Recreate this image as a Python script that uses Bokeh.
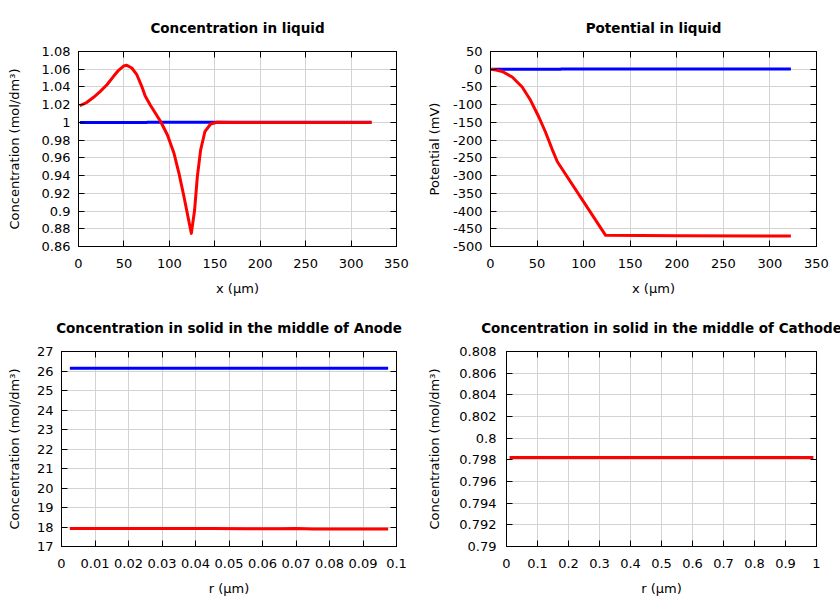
from bokeh.plotting import figure
from bokeh.layouts import column, row
from bokeh.models import FixedTicker, LinearAxis, CustomJSTickFormatter, Range1d
from bokeh.embed import file_html
from bokeh.resources import INLINE

# ---------------- data ----------------
liq_x_blue = [1.5, 75.0, 75.5, 322.5]
liq_c_blue = [0.9999, 0.9999, 1.0001, 1.0001]
liq_x_red = [1.3, 9.3, 16.6, 24.0, 31.3, 38.6, 44.1, 49.6, 53.2, 58.7, 64.2, 69.6,
             73.3, 78.8, 84.0, 90.5, 97.9, 105.1, 110.6, 116.1, 120.5, 124.2,
             127.8, 130.8, 134.4, 139.1, 145.4, 152.7, 170.0, 322.5]
liq_c_red = [1.0188, 1.0227, 1.0283, 1.035, 1.0425, 1.052, 1.0588, 1.0636, 1.0644,
             1.0614, 1.0538, 1.0407, 1.03, 1.02, 1.0115, 1.0008, 0.9858, 0.9651,
             0.9425, 0.9161, 0.8935, 0.8748, 0.9011, 0.9387, 0.9688, 0.9895, 0.9982,
             1.0001, 1.0, 1.0]

pot_x_blue = [1.5, 75.0, 75.5, 322.5]
pot_v_blue = [-0.3, -0.3, 0.3, 0.3]
pot_x_red = [0.5, 6.0, 12.6, 23.3, 34.0, 43.0, 51.9, 59.0, 66.2, 71.8, 123.6, 200.0,
             322.5]
pot_v_red = [0.0, -2.0, -6.5, -22.0, -50.0, -87.7, -134.7, -177.0, -225.9, -261.0,
             -468.5, -469.5, -470.5]

anode_r = [0.0025, 0.045, 0.055, 0.06, 0.065, 0.07, 0.075, 0.0975]
anode_blue = [26.14, 26.14, 26.14, 26.14, 26.14, 26.14, 26.14, 26.14]
anode_red = [17.92, 17.92, 17.91, 17.905, 17.915, 17.92, 17.9, 17.895]

cathode_r = [0.01, 0.99]
cathode_red = [0.79822, 0.79822]

liq_xticks = [0, 50, 100, 150, 200, 250, 300, 350]
liq_cticks = [0.86, 0.88, 0.9, 0.92, 0.94, 0.96, 0.98, 1.0, 1.02, 1.04, 1.06, 1.08]
pot_vticks = [-500, -450, -400, -350, -300, -250, -200, -150, -100, -50, 0, 50]
anode_rticks = [0, 0.01, 0.02, 0.03, 0.04, 0.05, 0.06, 0.07, 0.08, 0.09, 0.1]
anode_cticks = [17, 18, 19, 20, 21, 22, 23, 24, 25, 26, 27]
cath_rticks = [0, 0.1, 0.2, 0.3, 0.4, 0.5, 0.6, 0.7, 0.8, 0.9, 1]
cath_cticks = [0.79, 0.792, 0.794, 0.796, 0.798, 0.8, 0.802, 0.804, 0.806, 0.808]

FONT = "DejaVu Sans"
BLUE = "#0000ff"
RED = "#ff0000"

fmt_code = "return Number(tick.toPrecision(10)).toString();"


def make_fig(title, xr, yr, xticks, yticks, xlabel, ylabel,
             bl, ylab_standoff, ylab_major_standoff=8):
    p = figure(width=420, height=300, x_range=Range1d(*xr), y_range=Range1d(*yr),
               output_backend="svg", toolbar_location=None,
               min_border_left=bl, min_border_right=24,
               min_border_top=51, min_border_bottom=54)
    p.title.text = title
    p.title.align = "center"
    p.title.text_font = FONT
    p.title.text_font_size = "13.5px"
    p.title.text_font_style = "bold"
    p.title.text_color = "black"
    p.title.standoff = 32
    p.outline_line_color = "black"
    p.outline_line_width = 1
    p.background_fill_color = "white"
    p.border_fill_color = "white"

    for ax, ticks in ((p.xaxis[0], xticks), (p.yaxis[0], yticks)):
        ax.ticker = FixedTicker(ticks=ticks)
        ax.formatter = CustomJSTickFormatter(code=fmt_code)
        ax.major_tick_in = 6
        ax.major_tick_out = 0
        ax.minor_tick_line_color = None
        ax.axis_line_color = "black"
        ax.major_tick_line_color = "black"
        ax.major_label_text_font = FONT
        ax.major_label_text_font_size = "13px"
        ax.major_label_text_color = "black"
        ax.axis_label_text_font = FONT
        ax.axis_label_text_font_size = "13px"
        ax.axis_label_text_font_style = "normal"
        ax.axis_label_text_color = "black"
    p.xaxis[0].axis_label = xlabel
    p.yaxis[0].axis_label = ylabel
    p.xaxis[0].major_label_standoff = 12
    p.xaxis[0].axis_label_standoff = 10
    p.yaxis[0].major_label_standoff = ylab_major_standoff
    p.yaxis[0].axis_label_standoff = ylab_standoff

    for ticks, side in ((xticks, "above"), (yticks, "right")):
        ax = LinearAxis(ticker=FixedTicker(ticks=ticks))
        ax.major_tick_in = 6
        ax.major_tick_out = 0
        ax.minor_tick_line_color = None
        ax.axis_line_color = "black"
        ax.major_tick_line_color = "black"
        ax.major_label_text_font_size = "0px"
        ax.major_label_standoff = 0
        p.add_layout(ax, side)

    p.xgrid[0].ticker = FixedTicker(ticks=xticks)
    p.ygrid[0].ticker = FixedTicker(ticks=yticks)
    p.grid.grid_line_color = "#d3d3d3"
    p.grid.grid_line_width = 1
    return p


YL = "Concentration (mol/dm\u00b3)"

p1 = make_fig("Concentration in liquid", (0, 350), (0.86, 1.08), liq_xticks, liq_cticks,
              "x (\u00b5m)", YL, 78, 17)
p1.line(liq_x_blue, liq_c_blue, line_color=BLUE, line_width=3)
p1.line(liq_x_red, liq_c_red, line_color=RED, line_width=3, line_join="round")

p2 = make_fig("Potential in liquid", (0, 350), (-500, 50), liq_xticks, pot_vticks,
              "x (\u00b5m)", "Potential (mV)", 70, 8)
p2.line(pot_x_blue, pot_v_blue, line_color=BLUE, line_width=3)
p2.line(pot_x_red, pot_v_red, line_color=RED, line_width=3, line_join="round")

p3 = make_fig("Concentration in solid in the middle of Anode", (0, 0.1), (17, 27),
              anode_rticks, anode_cticks, "r (\u00b5m)", YL, 61, 12)
p3.line(anode_r, anode_blue, line_color=BLUE, line_width=3)
p3.line(anode_r, anode_red, line_color=RED, line_width=3)

p4 = make_fig("Concentration in solid in the middle of Cathode", (0, 1), (0.79, 0.808),
              cath_rticks, cath_cticks, "r (\u00b5m)", YL, 86, 14, 10)
p4.line(cathode_r, cathode_red, line_color=RED, line_width=3)

layout = column(row(p1, p2), row(p3, p4))
open("out.html", "w").write(file_html(layout, INLINE))
